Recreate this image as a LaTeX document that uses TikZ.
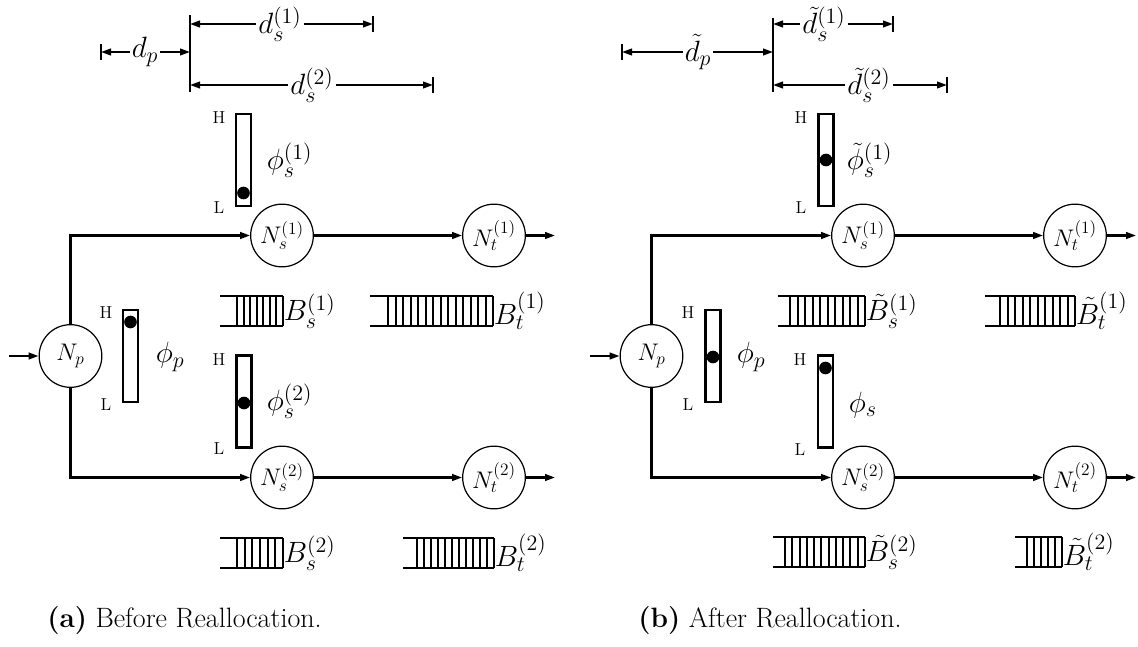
\RequirePackage{fix-cm}
\documentclass[tikz,border=0pt]{standalone}
\usetikzlibrary{arrows.meta}
\DeclareMathSizes{22}{22}{16.5}{11}
\DeclareMathSizes{18}{18}{13}{9}
\newcommand\qbuf[6]{% name, left, first bar, right, y centre, number of bars
  \draw[qline] (#2,#5-15) -- (#4,#5-15) (#2,#5+15) -- (#4,#5+15);
  \foreach \k in {1,...,#6}{%
    \pgfmathsetmacro\bx{#3+(\k-1)*(#4-#3)/(#6-1)}%
    \draw[qline] (\bx,#5-15) -- (\bx,#5+15);}
  \coordinate (#1) at (#4,#5);
}
\begin{document}
\begin{tikzpicture}[x=0.75pt,y=-0.75pt,
  netnode/.style={circle,draw,line width=0.9pt,minimum size=47pt,inner sep=0pt,font=\fontsize{18}{20}\selectfont},
  flow/.style={line width=1.6pt,-{Triangle[length=7.5pt,width=5pt]}},
  gauge/.style={draw,line width=1.6pt,minimum width=11.25pt,minimum height=69pt,inner sep=0pt},
  level/.style={circle,fill,inner sep=0pt,minimum size=9.5pt},
  hl/.style={font=\fontsize{13}{15}\selectfont,inner sep=0pt},
  lab/.style={font=\fontsize{22}{25}\selectfont,inner sep=0.5pt},
  dimlab/.style={font=\fontsize{22}{25}\selectfont,inner sep=1.5pt},
  dimline/.style={line width=1.5pt,-{Triangle[length=7.5pt,width=5pt]}},
  tickline/.style={line width=2.2pt},
  qline/.style={line width=1.5pt},
  captext/.style={font=\fontsize{21}{24}\selectfont,inner sep=0pt}]
\useasboundingbox (0,0) rectangle (1138,646);

% ================= (a) =================
% dimension lines
\coordinate (avt) at (190,15); \coordinate (avb) at (190,92);
\draw[tickline] (avt) -- (avb);
\node[dimlab] (adp) at (145,52) {$d_p$};
\coordinate (adpL) at (101,52); \coordinate (adpR) at (190,52);
\draw[dimline] (adp) -- (adpL); \draw[dimline] (adp) -- (adpR);
\draw[tickline] ([yshift=6pt]adpL) -- ([yshift=-6pt]adpL);
\node[dimlab] (ads1) at (280,24) {$d_s^{(1)}$};
\coordinate (ads1L) at (190,24); \coordinate (ads1R) at (373,24);
\draw[dimline] (ads1) -- (ads1L); \draw[dimline] (ads1) -- (ads1R);
\draw[tickline] ([yshift=6pt]ads1R) -- ([yshift=-6pt]ads1R);
\node[dimlab] (ads2) at (312,85) {$d_s^{(2)}$};
\coordinate (ads2L) at (190,85); \coordinate (ads2R) at (433,85);
\draw[dimline] (ads2) -- (ads2L); \draw[dimline] (ads2) -- (ads2R);
\draw[tickline] ([yshift=6pt]ads2R) -- ([yshift=-6pt]ads2R);

% nodes
\node[netnode] (aNp) at (70.5,356) {$N_p$};
\node[netnode] (aNs1) at (282,235.5) {$N_s^{(1)}$};
\node[netnode] (aNt1) at (494,235.5) {$N_t^{(1)}$};
\node[netnode] (aNs2) at (282,477.5) {$N_s^{(2)}$};
\node[netnode] (aNt2) at (494,477.5) {$N_t^{(2)}$};
\coordinate (ain) at (9,356);
\coordinate (aout1) at (555,235.5);
\coordinate (aout2) at (555,477.5);
\draw[flow] (ain) -- (aNp);
\draw[flow] (aNp.north) |- (aNs1);
\draw[flow] (aNp.south) |- (aNs2);
\draw[flow] (aNs1) -- (aNt1);
\draw[flow] (aNs2) -- (aNt2);
\draw[flow] (aNt1) -- (aout1);
\draw[flow] (aNt2) -- (aout2);

% gauges
\node[gauge] (aGp) at (130.5,356) {};
\node[level] (aDp) at (130.5,322) {};
\node[hl] (aHp) at (106,313) {H};
\node[hl] (aLp) at (106,405) {L};
\node[lab,anchor=west] (aphip) at (155,357) {$\phi_p$};

\node[gauge] (aGs1) at (243.5,160) {};
\node[level] (aDs1) at (243.5,193) {};
\node[hl] (aHs1) at (219,118) {H};
\node[hl] (aLs1) at (219,208) {L};
\node[lab,anchor=west] (aphis1) at (266,160) {$\phi_s^{(1)}$};

\node[gauge] (aGs2) at (244,401.5) {};
\node[level] (aDs2) at (244,403) {};
\node[hl] (aHs2) at (219,360) {H};
\node[hl] (aLs2) at (219,449) {L};
\node[lab,anchor=west] (aphis2) at (266,401) {$\phi_s^{(2)}$};

% buffers
\qbuf{aqBs1}{220}{237}{283}{311}{8}
\node[lab,anchor=west] (aBs1) at (aqBs1) {$B_s^{(1)}$};
\qbuf{aqBt1}{370}{388}{493}{311}{15}
\node[lab,anchor=west] (aBt1) at (aqBt1) {$B_t^{(1)}$};
\qbuf{aqBs2}{220}{237}{283}{553}{7}
\node[lab,anchor=west] (aBs2) at (aqBs2) {$B_s^{(2)}$};
\qbuf{aqBt2}{403}{417}{494}{553}{12}
\node[lab,anchor=west] (aBt2) at (aqBt2) {$B_t^{(2)}$};

\node[captext,anchor=west] (capA) at (47,621) {\textbf{(a)} Before Reallocation.};

% ================= (b) =================
\coordinate (bvt) at (773,18); \coordinate (bvb) at (773,92);
\draw[tickline] (bvt) -- (bvb);
\node[dimlab] (bdp) at (698,52) {$\tilde{d}_p$};
\coordinate (bdpL) at (622,52); \coordinate (bdpR) at (773,52);
\draw[dimline] (bdp) -- (bdpL); \draw[dimline] (bdp) -- (bdpR);
\draw[tickline] ([yshift=6pt]bdpL) -- ([yshift=-6pt]bdpL);
\node[dimlab] (bds1) at (824,24) {$\tilde{d}_s^{(1)}$};
\coordinate (bds1L) at (773,24); \coordinate (bds1R) at (893,24);
\draw[dimline] (bds1) -- (bds1L); \draw[dimline] (bds1) -- (bds1R);
\draw[tickline] ([yshift=6pt]bds1R) -- ([yshift=-6pt]bds1R);
\node[dimlab] (bds2) at (869,85) {$\tilde{d}_s^{(2)}$};
\coordinate (bds2L) at (773,85); \coordinate (bds2R) at (947,85);
\draw[dimline] (bds2) -- (bds2L); \draw[dimline] (bds2) -- (bds2R);
\draw[tickline] ([yshift=6pt]bds2R) -- ([yshift=-6pt]bds2R);

\node[netnode] (bNp) at (651.5,356) {$N_p$};
\node[netnode] (bNs1) at (863,235.5) {$N_s^{(1)}$};
\node[netnode] (bNt1) at (1075,235.5) {$N_t^{(1)}$};
\node[netnode] (bNs2) at (863,477.5) {$N_s^{(2)}$};
\node[netnode] (bNt2) at (1075,477.5) {$N_t^{(2)}$};
\coordinate (bin) at (590,356);
\coordinate (bout1) at (1136,235.5);
\coordinate (bout2) at (1136,477.5);
\draw[flow] (bin) -- (bNp);
\draw[flow] (bNp.north) |- (bNs1);
\draw[flow] (bNp.south) |- (bNs2);
\draw[flow] (bNs1) -- (bNt1);
\draw[flow] (bNs2) -- (bNt2);
\draw[flow] (bNt1) -- (bout1);
\draw[flow] (bNt2) -- (bout2);

\node[gauge] (bGp) at (713,356) {};
\node[level] (bDp) at (713,357) {};
\node[hl] (bHp) at (688,313) {H};
\node[hl] (bLp) at (688,405) {L};
\node[lab,anchor=west] (bphip) at (736,357) {$\phi_p$};

\node[gauge] (bGs1) at (826,160) {};
\node[level] (bDs1) at (826,160) {};
\node[hl] (bHs1) at (801,118) {H};
\node[hl] (bLs1) at (801,208) {L};
\node[lab,anchor=west] (bphis1) at (846,160) {$\tilde{\phi}_s^{(1)}$};

\node[gauge] (bGs2) at (825.5,401.5) {};
\node[level] (bDs2) at (825.5,368) {};
\node[hl] (bHs2) at (800,360) {H};
\node[hl] (bLs2) at (800,450) {L};
\node[lab,anchor=west] (bphis2) at (848,405) {$\phi_s$};

\qbuf{bqBs1}{778}{790}{865}{311}{11}
\node[lab,anchor=west] (bBs1) at (bqBs1) {$\tilde{B}_s^{(1)}$};
\qbuf{bqBt1}{985}{1000}{1075}{311}{11}
\node[lab,anchor=west] (bBt1) at (bqBt1) {$\tilde{B}_t^{(1)}$};
\qbuf{bqBs2}{773}{785}{865}{552}{12}
\node[lab,anchor=west] (bBs2) at (bqBs2) {$\tilde{B}_s^{(2)}$};
\qbuf{bqBt2}{1015}{1027}{1062}{552}{6}
\node[lab,anchor=west] (bBt2) at (bqBt2) {$\tilde{B}_t^{(2)}$};

\node[captext,anchor=west] (capB) at (638,621) {\textbf{(b)} After Reallocation.};
\end{tikzpicture}
\end{document}
